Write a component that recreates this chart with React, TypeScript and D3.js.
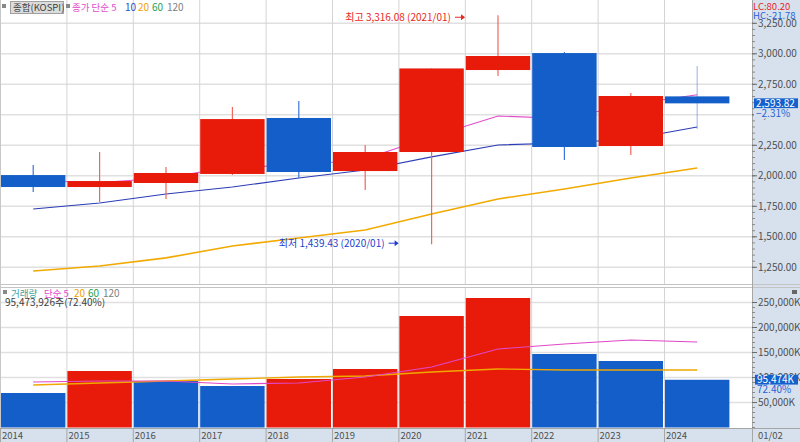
import { format, line, scaleBand, scaleLinear } from 'd3'

const years = ['2014', '2015', '2016', '2017', '2018', '2019', '2020', '2021', '2022', '2023', '2024']

const opens = [2006, 1908, 1941, 2015, 2474, 2039, 2195, 2867, 3006, 2244, 2651]
const highs = [2088, 2195, 2072, 2564, 2613, 2252, 2880, 3316.08, 3015, 2679, 2900]
const lows = [1867, 1785, 1810, 2006, 1982, 1884, 1439.43, 2818, 2130, 2170, 2383]
const closes = [1908, 1957, 2023, 2465, 2031, 2195, 2880, 2982, 2236, 2654, 2593.82]
const lastChangePct = -2.31

const priceMa5 = [1960, 1945, 1982, 2075, 2082, 2140, 2320, 2490, 2470, 2585, 2665]
const priceMa10 = [1728, 1777, 1851, 1908, 1982, 2048, 2155, 2253, 2269, 2302, 2400]
const priceMa20 = [1220, 1261, 1327, 1425, 1490, 1556, 1687, 1810, 1892, 1982, 2064]

// thousands of shares
const volumes = [69000, 113000, 93000, 83000, 97000, 117000, 223000, 259000, 147000, 133000, 95474]
const volumeMa5 = [91000, 93000, 93000, 87000, 89000, 101000, 121000, 157000, 167000, 175000, 171000]
const volumeMa20 = [85000, 89000, 93000, 97000, 101000, 103000, 111000, 117000, 115000, 115000, 115000]
const lastVolumeShares = 95473926
const lastVolumeRatio = 72.4

const priceTicks = [1250, 1500, 1750, 2000, 2250, 2500, 2750, 3000, 3250]
const volumeTicks = [50000, 100000, 150000, 200000, 250000]

const chartWidth = 800
const chartHeight = 442
const plotRight = 752
const upperPanel = { top: 0, bottom: 284 }
const lowerPanel = { top: 287, bottom: 428 }

const upColor = '#e81b0b'
const downColor = '#135ec8'
const upWick = '#f0675b'
const downWick = '#3d76d6'
const axisFill = '#d6e1ed'
const gridColor = '#e0e0e0'
const edgeColor = '#a6a6a6'
const labelColor = '#505050'
const numFont = "'Liberation Sans Narrow', 'Noto Sans CJK KR', sans-serif"

const priceFormat = format(',.2f')
const volumeFormat = format(',')

function App() {
  const xScale = scaleBand<string>()
    .domain(years)
    .range([0, 730.4])
    .paddingInner(0.03)
    .paddingOuter(0.015)

  const bw = xScale.bandwidth()
  const step = xScale.step()
  const left = (i: number) => xScale(years[i]) ?? 0
  const center = (i: number) => left(i) + bw / 2
  const edge = (i: number) => left(i) - (step * xScale.paddingInner()) / 2

  const yPrice = scaleLinear().domain([1250, 3250]).range([267.3, 23.3])
  const yVolume = scaleLinear().domain([0, 250000]).range([427.5, 302.5])

  const priceLine = line<number>()
    .x((_, i) => center(i))
    .y((d) => yPrice(d))
  const volumeLine = line<number>()
    .x((_, i) => center(i))
    .y((d) => yVolume(d))

  const last = years.length - 1
  const highIndex = highs.indexOf(Math.max(...highs))
  const lowIndex = lows.indexOf(Math.min(...lows))
  const highY = yPrice(highs[highIndex]) + 2
  const lowY = yPrice(lows[lowIndex]) - 1
  const closeY = yPrice(closes[last])
  const volumeY = yVolume(volumes[last])

  return (
    <svg
      width={chartWidth}
      height={chartHeight}
      viewBox={`0 0 ${chartWidth} ${chartHeight}`}
      style={{ position: 'absolute', left: 0, top: 0, display: 'block', background: '#fff' }}
      fontFamily={numFont}
    >
      {/* right axis panel and bottom date row */}
      <rect x={plotRight} y={0} width={chartWidth - plotRight} height={chartHeight} fill={axisFill} />
      <rect x={0} y={lowerPanel.bottom} width={chartWidth} height={chartHeight - lowerPanel.bottom} fill={axisFill} />

      {/* horizontal grid */}
      {priceTicks.map((tick) => (
        <line key={`pg-${tick}`} x1={0} x2={plotRight} y1={yPrice(tick)} y2={yPrice(tick)} stroke={gridColor} strokeWidth={1.5} />
      ))}
      {volumeTicks.map((tick) => (
        <line key={`vg-${tick}`} x1={0} x2={plotRight} y1={yVolume(tick)} y2={yVolume(tick)} stroke={gridColor} strokeWidth={1.5} />
      ))}

      {/* vertical grid at year edges */}
      {years.map((year, i) => (
        <g key={`vx-${year}`}>
          <line x1={edge(i) + 0.5} x2={edge(i) + 0.5} y1={upperPanel.top} y2={upperPanel.bottom} stroke="#d4d4d4" />
          <line x1={edge(i) + 0.5} x2={edge(i) + 0.5} y1={lowerPanel.top} y2={lowerPanel.bottom} stroke="#d4d4d4" />
          <line x1={edge(i) + 0.5} x2={edge(i) + 0.5} y1={lowerPanel.bottom} y2={chartHeight} stroke={edgeColor} />
          <text x={edge(i) + 2} y={439} fontSize={9.5} fill={labelColor}>
            {year}
          </text>
        </g>
      ))}

      {/* moving averages behind the candles */}
      <path d={priceLine(priceMa20) ?? ''} fill="none" stroke="#f2aa00" strokeWidth={1.6} />
      <path d={priceLine(priceMa10) ?? ''} fill="none" stroke="#2a3db6" strokeWidth={1.1} />
      <path d={priceLine(priceMa5) ?? ''} fill="none" stroke="#e24ccb" strokeWidth={1.1} />

      {/* candles */}
      {years.map((year, i) => {
        const up = closes[i] >= opens[i]
        const top = yPrice(Math.max(opens[i], closes[i]))
        const bottom = yPrice(Math.min(opens[i], closes[i]))

        return (
          <g key={`c-${year}`}>
            <line
              x1={center(i)}
              x2={center(i)}
              y1={yPrice(highs[i])}
              y2={yPrice(lows[i])}
              stroke={up ? upWick : downWick}
              strokeWidth={1.2}
              opacity={i === last ? 0.45 : 1}
            />
            <rect x={left(i)} y={top} width={bw} height={Math.max(bottom - top, 1)} fill={up ? upColor : downColor} />
          </g>
        )
      })}

      {/* high / low notes */}
      <g fill="#e8271d" stroke="#e8271d">
        <text x={center(highIndex) - 47} y={highY} dy="0.35em" textAnchor="end" fontSize={10} stroke="none">
          최고 {priceFormat(highs[highIndex])} ({years[highIndex]}/01)
        </text>
        <line x1={center(highIndex) - 43} x2={center(highIndex) - 34} y1={highY} y2={highY} />
        <path d={`M${center(highIndex) - 33},${highY}l-4,-3v6z`} stroke="none" />
      </g>
      <g fill="#1d3fd0" stroke="#1d3fd0">
        <text x={center(lowIndex) - 47} y={lowY} dy="0.35em" textAnchor="end" fontSize={10} stroke="none">
          최저 {priceFormat(lows[lowIndex])} ({years[lowIndex]}/01)
        </text>
        <line x1={center(lowIndex) - 43} x2={center(lowIndex) - 34} y1={lowY} y2={lowY} />
        <path d={`M${center(lowIndex) - 33},${lowY}l-4,-3v6z`} stroke="none" />
      </g>

      {/* volume bars */}
      {years.map((year, i) => {
        const up = i > 0 && volumes[i] >= volumes[i - 1]
        return (
          <rect
            key={`v-${year}`}
            x={left(i)}
            y={yVolume(volumes[i])}
            width={bw}
            height={yVolume(0) - yVolume(volumes[i])}
            fill={up ? upColor : downColor}
          />
        )
      })}
      <path d={volumeLine(volumeMa20) ?? ''} fill="none" stroke="#f0a800" strokeWidth={1.3} />
      <path d={volumeLine(volumeMa5) ?? ''} fill="none" stroke="#e048c8" strokeWidth={1.1} />

      {/* panel separator and axis edges */}
      <line x1={0} x2={chartWidth} y1={upperPanel.bottom + 0.5} y2={upperPanel.bottom + 0.5} stroke="#c4c4c4" />
      <line x1={0} x2={chartWidth} y1={lowerPanel.top + 0.5} y2={lowerPanel.top + 0.5} stroke="#c4c4c4" />
      <line x1={0} x2={chartWidth} y1={lowerPanel.bottom + 0.5} y2={lowerPanel.bottom + 0.5} stroke={edgeColor} />
      <line x1={plotRight + 0.5} x2={plotRight + 0.5} y1={0} y2={chartHeight} stroke={edgeColor} />
      <line x1={0.5} x2={0.5} y1={0} y2={lowerPanel.bottom} stroke="#c8c8c8" />

      {/* price axis */}
      {yPrice.ticks(40).map((tick) => (
        <line key={`pm-${tick}`} x1={plotRight} x2={plotRight + 3} y1={yPrice(tick)} y2={yPrice(tick)} stroke="#8a8a8a" />
      ))}
      {priceTicks.map((tick) => (
        <g key={`pt-${tick}`}>
          <line x1={plotRight} x2={plotRight + 5} y1={yPrice(tick)} y2={yPrice(tick)} stroke="#6a6a6a" />
          <text x={plotRight + 6} y={yPrice(tick)} dy="0.35em" fontSize={10} fill={labelColor}>
            {priceFormat(tick)}
          </text>
        </g>
      ))}
      <rect x={plotRight + 1} y={0} width={chartWidth - plotRight - 1} height={19} fill={axisFill} />
      <text x={plotRight + 1} y={10} fontSize={9.5} fill="#e8271d">
        LC:80.20
      </text>
      <text x={plotRight + 1} y={19} fontSize={9.5} fill="#2a5fd6">
        HC:-21.78
      </text>
      <rect x={plotRight + 2} y={closeY - 5} width={44} height={10} fill="#1460cc" />
      <text x={plotRight + 4} y={closeY} dy="0.35em" fontSize={10} fill="#fff">
        {priceFormat(closes[last])}
      </text>
      <rect x={plotRight + 2} y={closeY + 5} width={44} height={10} fill={axisFill} />
      <text x={plotRight + 4} y={closeY + 10} dy="0.35em" fontSize={10} fill="#2a5fd6">
        {format('.2f')(lastChangePct)}%
      </text>

      {/* volume axis */}
      {yVolume.ticks(25).map((tick) => (
        <line key={`vm-${tick}`} x1={plotRight} x2={plotRight + 3} y1={yVolume(tick)} y2={yVolume(tick)} stroke="#8a8a8a" />
      ))}
      {volumeTicks.map((tick) => (
        <g key={`vt-${tick}`}>
          <line x1={plotRight} x2={plotRight + 5} y1={yVolume(tick)} y2={yVolume(tick)} stroke="#6a6a6a" />
          <text x={plotRight + 6} y={yVolume(tick)} dy="0.35em" fontSize={10} fill={labelColor}>
            {volumeFormat(tick)}K
          </text>
        </g>
      ))}
      <rect x={plotRight + 3} y={volumeY - 5} width={43} height={10} fill="#1460cc" />
      <text x={plotRight + 5} y={volumeY} dy="0.35em" fontSize={10} fill="#fff">
        {volumeFormat(volumes[last])}K
      </text>
      <rect x={plotRight + 3} y={volumeY + 5} width={43} height={9} fill={axisFill} />
      <text x={plotRight + 5} y={volumeY + 9.5} dy="0.35em" fontSize={10} fill="#2a5fd6">
        {format('.2f')(lastVolumeRatio)}%
      </text>
      <rect x={792} y={290} width={5} height={4} fill="#666" />
      <text x={plotRight + 6} y={439} fontSize={9.5} fill={labelColor}>
        01/02
      </text>

      {/* upper legend */}
      <rect x={2} y={4} width={4} height={4} fill="#888" />
      <rect x={10.5} y={1.5} width={53} height={12} fill="#dcdcdc" stroke="#a0a0a0" />
      <text x={13} y={11} fontSize={9.5} fill="#404040">
        종합(KOSPI)
      </text>
      <rect x={66} y={4} width={4} height={4} fill="#888" />
      <text x={72} y={11} fontSize={9.5} fill="#e24ccb">
        종가 단순 5
      </text>
      <text x={125} y={11} fontSize={10} fill="#2a4fc8">
        10
      </text>
      <text x={138} y={11} fontSize={10} fill="#f0a000">
        20
      </text>
      <text x={152} y={11} fontSize={10} fill="#28a050">
        60
      </text>
      <text x={167} y={11} fontSize={10} fill="#808080">
        120
      </text>

      {/* lower legend */}
      <rect x={3} y={lowerPanel.top + 3} width={4} height={4} fill="#888" />
      <text x={11} y={lowerPanel.top + 10} fontSize={9.5} fill="#3aa3a8">
        거래량
      </text>
      <text x={44} y={lowerPanel.top + 10} fontSize={9.5} fill="#e24ccb">
        단순 5
      </text>
      <text x={74} y={lowerPanel.top + 10} fontSize={10} fill="#f0a000">
        20
      </text>
      <text x={88} y={lowerPanel.top + 10} fontSize={10} fill="#28a050">
        60
      </text>
      <text x={103} y={lowerPanel.top + 10} fontSize={10} fill="#808080">
        120
      </text>
      <text x={5} y={lowerPanel.top + 19} fontSize={10} fill="#404040">
        {volumeFormat(lastVolumeShares)}주({format('.2f')(lastVolumeRatio)}%)
      </text>
    </svg>
  )
}

export default App
